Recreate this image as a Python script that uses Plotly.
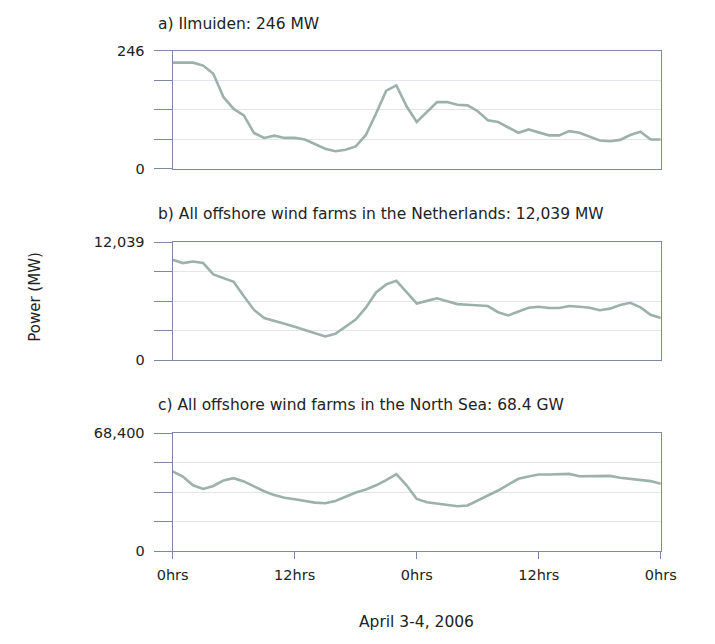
import plotly.graph_objects as go

W, H = 715, 644

hours = list(range(49))
tick_hours = [0, 12, 24, 36, 48]
tick_labels = ["0hrs", "12hrs", "0hrs", "12hrs", "0hrs"]

titles = [
    "a) Ilmuiden: 246 MW",
    "b) All offshore wind farms in the Netherlands: 12,039 MW",
    "c) All offshore wind farms in the North Sea: 68.4 GW",
]
y_max = [246, 12039, 68400]
y_top_labels = ["246", "12,039", "68,400"]

ijmuiden = [221.5, 221.5, 221.5, 215.4, 198.4, 149.5, 125.0, 111.5, 74.8, 64.6,
            69.3, 64.6, 64.6, 61.2, 51.6, 42.1, 36.7, 40.1, 46.9, 70.7,
            115.5, 163.1, 174.0, 130.5, 97.9, 118.9, 139.3, 139.3, 133.9, 132.5,
            120.3, 101.3, 97.9, 86.3, 75.4, 82.2, 76.1, 70.0, 70.0, 78.8,
            75.4, 68.0, 59.1, 57.8, 60.5, 70.7, 77.5, 61.2, 61.2]

netherlands = [10224, 9894, 10059, 9894, 8740, 8344, 7981, 6497, 5112, 4287,
               4024, 3694, 3397, 3067, 2737, 2408, 2671, 3397, 4122, 5343,
               6893, 7717, 8080, 6926, 5772, 6035, 6299, 6002, 5706, 5640,
               5574, 5508, 4881, 4551, 4947, 5343, 5442, 5310, 5310, 5508,
               5442, 5343, 5079, 5244, 5607, 5838, 5376, 4617, 4287]

north_sea = [46293, 43270, 38168, 36089, 37790, 41002, 42325, 40435, 37601, 34767,
             32499, 30988, 30043, 29098, 28154, 27776, 29098, 31555, 34011, 35712,
             38168, 41191, 44592, 38168, 30232, 28343, 27587, 27209, 26075, 26453,
             29287, 32122, 35145, 38546, 41947, 43270, 44403, 44403, 44592, 44781,
             43459, 43648, 43648, 43648, 42514, 41947, 41569, 40624, 39113]

series = [ijmuiden, netherlands, north_sea]

# layout in pixels
plot_left, plot_right = 164, 675
panel_tops = [44, 240, 436]
panel_h = 121
title_y = [16, 211, 407]

LINE = "#9db1ab"
AXIS = "#7f87a6"
GRID = "#e4e4ec"
TXT = "#222222"
TICK_FONT = dict(family="DejaVu Sans", size=14.5, color=TXT)

fig = go.Figure()
layout = dict(
    width=W, height=H,
    margin=dict(l=0, r=0, t=0, b=0),
    paper_bgcolor="white", plot_bgcolor="white",
    showlegend=False,
    annotations=[],
)

for i in range(3):
    sfx = "" if i == 0 else str(i + 1)
    fig.add_trace(go.Scatter(
        x=hours, y=series[i], mode="lines",
        line=dict(color=LINE, width=2.6),
        xaxis="x" + sfx, yaxis="y" + sfx, hoverinfo="skip",
    ))
    top, bot = panel_tops[i], panel_tops[i] + panel_h
    ydom = [1 - bot / H, 1 - top / H]
    last = (i == 2)
    layout["xaxis" + sfx] = dict(
        domain=[plot_left / W, plot_right / W],
        range=[0, 48], anchor="y" + sfx,
        showline=True, linecolor=AXIS, linewidth=1.3, mirror=True,
        showgrid=False, zeroline=False,
        tickmode="array", tickvals=tick_hours,
        ticktext=tick_labels if last else [""] * 5,
        ticks="outside" if last else "", ticklen=7, tickwidth=1.2, tickcolor=AXIS,
        showticklabels=last, tickfont=TICK_FONT, ticklabelstandoff=3,
        fixedrange=True,
    )
    ym = y_max[i]
    layout["yaxis" + sfx] = dict(
        domain=ydom, range=[0, ym], anchor="x" + sfx,
        showline=True, linecolor=AXIS, linewidth=1.3, mirror=True,
        showgrid=True, gridcolor=GRID, gridwidth=1, zeroline=False,
        tickmode="array", tickvals=[0, ym / 4, ym / 2, 3 * ym / 4, ym],
        ticktext=["0", "", "", "", y_top_labels[i]],
        ticks="outside", ticklen=18, tickwidth=1.2, tickcolor=AXIS,
        tickfont=TICK_FONT, ticklabelstandoff=6,
        fixedrange=True,
    )
    layout["annotations"].append(dict(
        text=titles[i], xref="paper", yref="paper",
        x=147 / W, y=1 - title_y[i] / H, xanchor="left", yanchor="middle",
        showarrow=False, font=dict(family="DejaVu Sans", size=15.5, color=TXT),
    ))

layout["annotations"].append(dict(
    text="Power (MW)", xref="paper", yref="paper",
    x=20 / W, y=1 - 296 / H, xanchor="center", yanchor="middle",
    textangle=-90, showarrow=False,
    font=dict(family="DejaVu Sans", size=15, color=TXT),
))
layout["annotations"].append(dict(
    text="April 3-4, 2006", xref="paper", yref="paper",
    x=419.5 / W, y=1 - 630 / H, xanchor="center", yanchor="middle",
    showarrow=False, font=dict(family="DejaVu Sans", size=15.5, color=TXT),
))

fig.update_layout(**layout)
fig.write_html("out.html")
